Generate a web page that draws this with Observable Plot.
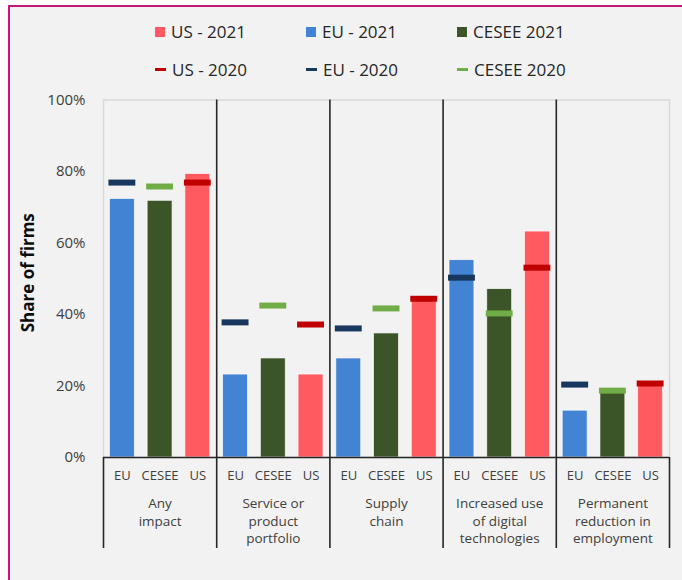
<!DOCTYPE html>
<html>
<head>
<meta charset="utf-8">
<script src="https://cdn.jsdelivr.net/npm/d3@7"></script>
<script src="https://cdn.jsdelivr.net/npm/@observablehq/plot@0.6"></script>
<style>
  html, body { margin: 0; padding: 0; background: #ffffff; }
  body { width: 682px; height: 580px; position: relative; overflow: hidden; font-family: "Open Sans", "Noto Sans", sans-serif; }
  #frame { position: absolute; left: 8px; top: 5px; width: 700px; height: 600px; background: #f2f2f2;
           border-left: 2.5px solid #c4177a; border-top: 2.5px solid #c4177a; }
  #chart { position: absolute; left: 0; top: 0; }
  .item { position: absolute; height: 20px; display: flex; align-items: center; font-size: 17px; color: #262626; white-space: nowrap; }
  .sw { display: inline-block; margin-right: 6px; }
</style>
</head>
<body>
<div id="frame"></div>
<div id="chart"></div>
<div id="legend"></div>
<script>
// ---- data ----
const groups = ["Any impact", "Service or product portfolio", "Supply chain", "Increased use of digital technologies", "Permanent reduction in employment"];
const groupLabels = ["Any\nimpact", "Service or\nproduct\nportfolio", "Supply\nchain", "Increased use\nof digital\ntechnologies", "Permanent\nreduction in\nemployment"];
const countries = ["EU", "CESEE", "US"];
const eu2021 = [72.3, 23.2, 27.7, 55.2, 13.1];
const cesee2021 = [71.8, 27.7, 34.7, 47.1, 18.3];
const us2021 = [79.3, 23.2, 44.1, 63.2, 20.6];
const eu2020 = [76.9, 37.8, 36.1, 50.3, 20.4];
const cesee2020 = [75.8, 42.5, 41.7, 40.3, 18.7];
const us2020 = [76.9, 37.2, 44.4, 53.1, 20.7];
const yTicks = [0, 20, 40, 60, 80, 100];
const legendItems = [
  {label: "US - 2021", country: "US", year: 2021},
  {label: "EU - 2021", country: "EU", year: 2021},
  {label: "CESEE 2021", country: "CESEE", year: 2021},
  {label: "US - 2020", country: "US", year: 2020},
  {label: "EU - 2020", country: "EU", year: 2020},
  {label: "CESEE 2020", country: "CESEE", year: 2020}
];

// ---- styles ----
const colors2021 = {EU: "#4383d4", CESEE: "#3b5428", US: "#ff5a5f"};
const colors2020 = {EU: "#17375e", CESEE: "#70ad47", US: "#c00000"};

const key = (g, c) => g + "|" + c;
const keys = groups.flatMap(g => countries.map(c => key(g, c)));
const v2021 = {EU: eu2021, CESEE: cesee2021, US: us2021};
const v2020 = {EU: eu2020, CESEE: cesee2020, US: us2020};
const data2021 = groups.flatMap((g, i) => countries.map(c => ({key: key(g, c), country: c, value: v2021[c][i]})));
const data2020 = groups.flatMap((g, i) => countries.map(c => ({key: key(g, c), country: c, value: v2020[c][i]})));

const W = 682, H = 580;
const mL = 103, mR = 13, mT = 99.5, mB = 123;
const xOpts = {type: "band", domain: keys, range: [mL, W - mR], paddingInner: 0.34, paddingOuter: 0.17, round: false};
const xs = Plot.scale({x: xOpts});
const half = xs.step / 2;

const ink = "#262626";
const plot = Plot.plot({
  width: W, height: H,
  marginLeft: mL, marginRight: mR, marginTop: mT, marginBottom: mB,
  style: {background: "transparent", fontFamily: "'Open Sans', 'Noto Sans', sans-serif"},
  x: {...xOpts, axis: null},
  y: {domain: [0, 100], axis: null},
  marks: [
    Plot.frame({stroke: "#d9d9d9", strokeWidth: 1.5}),
    Plot.barY(data2021, {x: "key", y: "value", fill: d => colors2021[d.country], stroke: "#ffffff", strokeWidth: 0.8, strokeOpacity: 0.8}),
    Plot.tickY(data2020, {x: "key", y: "value", stroke: d => colors2020[d.country], strokeWidth: 6, insetLeft: -1, insetRight: -1}),
    Plot.ruleY([0], {stroke: ink, strokeWidth: 1.6}),
    // inner group separators
    Plot.ruleX(groups.slice(1), {x: g => key(g, "EU"), y1: 100, y2: 0, dx: -half, insetBottom: -91, stroke: ink, strokeWidth: 1.6}),
    // outer ends below axis
    Plot.ruleX([key(groups[0], "EU")], {x: d => d, y1: 0, y2: 0, dx: -half, insetBottom: -91, stroke: ink, strokeWidth: 1.6}),
    Plot.ruleX([key(groups[groups.length - 1], "US")], {x: d => d, y1: 0, y2: 0, dx: half, insetBottom: -91, stroke: ink, strokeWidth: 1.6}),
    Plot.axisX({tickSize: 0, tickPadding: 13, tickFormat: k => k.split("|")[1], fontSize: 13, color: "#404040", label: null}),
    Plot.axisY({ticks: yTicks, tickSize: 0, tickPadding: 18, tickFormat: d => d + "%", fontSize: 15, color: "#404040", label: null}),
    Plot.text(groups, {x: g => key(g, "CESEE"), frameAnchor: "bottom", text: (g, i) => groupLabels[i], lineAnchor: "top", dy: 38, lineHeight: 1.31, fontSize: 13.5, fill: "#404040"}),
    Plot.text(["Share of firms"], {frameAnchor: "left", textAnchor: "middle", rotate: -90, dx: -75, dy: -6, fontSize: 17, fontWeight: "bold", fill: "#0d0d0d"})
  ]
});
document.getElementById("chart").appendChild(plot);

// ---- legend ----
const legend = document.getElementById("legend");
const colX = [155, 306, 457];
const rowY = [21.5, 59];
legendItems.forEach((it, i) => {
  const el = document.createElement("div");
  el.className = "item";
  el.style.left = colX[i % 3] + "px";
  el.style.top = rowY[Math.floor(i / 3)] + "px";
  const sw = document.createElement("span");
  sw.className = "sw";
  if (it.year === 2021) {
    sw.style.width = "10px"; sw.style.height = "10px"; sw.style.background = colors2021[it.country];
  } else {
    sw.style.width = "11px"; sw.style.height = "3px"; sw.style.background = colors2020[it.country];
  }
  el.appendChild(sw);
  el.appendChild(document.createTextNode(it.label));
  legend.appendChild(el);
});
</script>
</body>
</html>
